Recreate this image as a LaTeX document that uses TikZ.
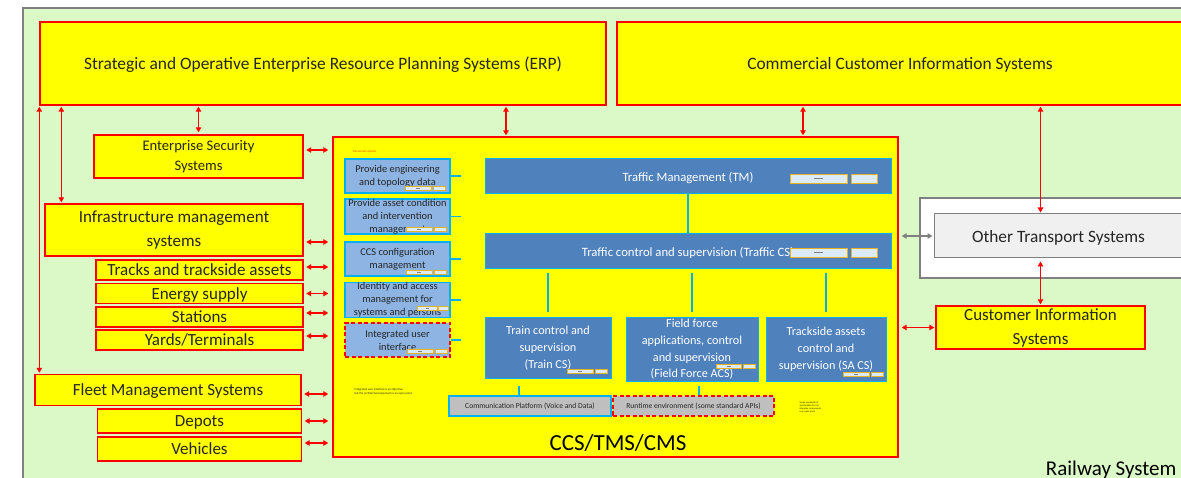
\documentclass[tikz,border=0pt]{standalone}
\usepackage{fontspec}
\setmainfont{Carlito}
\usetikzlibrary{arrows.meta}
\definecolor{bggreen}{HTML}{DAF9C6}
\definecolor{framegray}{HTML}{808080}
\definecolor{ccsblue}{HTML}{4F81BD}
\definecolor{lightblue}{HTML}{8DB4E2}
\definecolor{cyanb}{HTML}{00B0F0}
\definecolor{platgray}{HTML}{BFBFBF}
\definecolor{otgray}{HTML}{F0F0F0}
\definecolor{gaugefill}{HTML}{DDEBF7}
\definecolor{gaugeedge}{HTML}{E6B422}
\definecolor{txt}{HTML}{262626}
\definecolor{notered}{HTML}{FF4000}
\definecolor{pureyellow}{HTML}{FFFF00}
\newcommand\myfs[2]{\fontsize{#1}{#2}\selectfont}
\tikzset{
  gauge/.pic={
    \draw[draw=gaugeedge, fill=gaugefill, line width=0.6pt] (0,0) rectangle (0.66,1);
    \draw[draw=gray, line width=0.6pt] (0.28,0.5) -- (0.38,0.5);
    \draw[draw=gaugeedge, fill=gaugefill, line width=0.6pt] (0.7,0) rectangle (1,1);
  },
  sz/.style 2 args={minimum width=#1, minimum height=#2},
  ybox/.style={draw=red, fill=pureyellow, line width=1.4pt, inner sep=0pt, align=center, text=txt},
  lbox/.style={draw=cyanb, fill=lightblue, line width=1.2pt, inner sep=0pt, align=center, text=txt, font=\myfs{10.4}{13}},
  bbox/.style={draw=cyanb, fill=ccsblue, line width=1pt, inner sep=0pt, align=center, text=white},
  pbox/.style={draw=cyanb, fill=platgray, line width=1.2pt, inner sep=0pt, text=txt, font=\myfs{7.6}{8}},
  reddash/.style={draw=red, dash pattern=on 4pt off 2.5pt, line width=1.6pt},
  rarrow/.style={draw=red, line width=1.1pt, {Triangle[length=5pt,width=5.5pt]}-{Triangle[length=5pt,width=5.5pt]}},
  garrow/.style={draw=framegray, line width=1.1pt, {Triangle[length=5pt,width=5.5pt]}-{Triangle[length=5pt,width=5.5pt]}},
  cline/.style={draw=cyanb, line width=1.2pt},
  one/.style={text depth=0pt},
}
\begin{document}
\begin{tikzpicture}[x=1pt,y=-1pt]
\useasboundingbox (0,0) rectangle (1181,478);
\clip (0,0) rectangle (1181,478);
\fill[white] (0,0) rectangle (1181,478);
\draw[draw=framegray, fill=bggreen, line width=2pt] (23,8) rectangle (1200,500);

% top systems
\node[ybox, one, sz={566}{83}, font=\myfs{17.4}{20}] (erp) at (323,63.5) {Strategic and Operative Enterprise Resource Planning Systems (ERP)};
\node[ybox, one, sz={566}{83}, font=\myfs{17.4}{20}] (comm) at (900,63.5) {Commercial Customer Information Systems};

% left systems
\node[ybox, sz={209}{43}, font=\myfs{14.6}{20}] (ess) at (198.5,156.5) {Enterprise Security\\Systems};
\node[ybox, sz={258}{52}, font=\myfs{17}{24}] (infra) at (174,230) {Infrastructure management\\systems};
\node[ybox, one, sz={207}{20}, font=\myfs{17}{18}] (tracks) at (199.5,270) {Tracks and trackside assets};
\node[ybox, one, sz={207}{20}, font=\myfs{17}{18}] (energy) at (199.5,293.5) {Energy supply};
\node[ybox, one, sz={207}{20}, font=\myfs{17}{18}] (stations) at (199.5,317) {Stations};
\node[ybox, one, sz={207}{20}, font=\myfs{17}{18}] (yards) at (199.5,340) {Yards/Terminals};
\node[ybox, one, sz={266}{31}, font=\myfs{17}{18}] (fleet) at (168,390) {Fleet Management Systems};
\node[ybox, one, sz={204}{24}, font=\myfs{17}{18}] (depots) at (199.5,421) {Depots};
\node[ybox, one, sz={204}{24}, font=\myfs{17}{18}] (vehicles) at (199.5,449) {Vehicles};

% CCS block
\node[ybox, sz={565}{320}] (ccs) at (615.5,297) {};
\node[anchor=base, font=\myfs{23}{28}, text=black] (ccslabel) at (618,450) {CCS/TMS/CMS};
\node[anchor=west, font=\myfs{3}{3.5}, text=notered] (transv) at (349,152) {Transversal systems};

\node[lbox, sz={105}{34}] (lb1) at (397.5,176) {Provide engineering\\and topology data};
\node[lbox, sz={105}{35}] (lb2) at (397.5,216.5) {Provide asset condition\\and intervention\\management};
\node[lbox, sz={105}{34}] (lb3) at (397.5,259) {CCS configuration\\management};
\node[lbox, sz={105}{34}] (lb4) at (397.5,300) {Identity and access\\management for\\systems and persons};
\node[lbox, reddash, sz={105}{34}] (lb5) at (397.5,340) {Integrated user\\interface};
\node[anchor=north west, font=\myfs{3}{4}, align=left, text=txt] (iuinote) at (351,384.5) {Integrated user interface is an objective,\\but the architectural approach is an open point};

\node[bbox, one, sz={406}{35}, font=\myfs{12.7}{14}] (tm) at (688,176.5) {Traffic Management (TM)};
\node[bbox, one, sz={406}{35}, font=\myfs{12.7}{14}] (tcs) at (688,251.5) {Traffic control and supervision (Traffic CS)};
\node[bbox, sz={126}{60}, font=\myfs{12.2}{17}] (train) at (548,348) {Train control and\\supervision\\(Train CS)};
\node[bbox, sz={132}{63}, font=\myfs{12.2}{16.7}] (field) at (692,349.5) {Field force\\applications, control\\and supervision\\(Field Force ACS)};
\node[bbox, sz={120}{63}, font=\myfs{12.2}{17}] (track) at (826,349.5) {Trackside assets\\control and\\supervision (SA CS)};

\node[pbox, sz={162}{20}] (compl) at (530,406) {Communication Platform (Voice and Data)};
\node[pbox, reddash, sz={161}{20}] (runtime) at (693.5,406) {Runtime environment (some standard APIs)};
\node[anchor=north west, font=\myfs{2.4}{3}, align=left, text=txt] (scopenote) at (796,398) {Scope and depth of\\specification for the\\interplay, components\\is an open point};

% gauges
\pic[xscale=40,yscale=4] at (405,186) {gauge};
\pic[xscale=40,yscale=4] at (406,227) {gauge};
\pic[xscale=40,yscale=4] at (406,270) {gauge};
\pic[xscale=31,yscale=4] at (417,306) {gauge};
\pic[xscale=40,yscale=4] at (407,349) {gauge};
\pic[xscale=87,yscale=9] at (790,174) {gauge};
\pic[xscale=87,yscale=9] at (790,248) {gauge};
\pic[xscale=40,yscale=4] at (567,369) {gauge};
\pic[xscale=39,yscale=4] at (716,364) {gauge};
\pic[xscale=40,yscale=4] at (843,372) {gauge};

% inner connectors
\foreach \b in {lb1,lb2,lb3,lb4,lb5} {\draw[cline] (\b.east) -- ++(10,0);}
\draw[cline] (tm.south) -- (tcs.north);
\foreach \b in {train,field,track} {\draw[cline, shorten <=4pt, shorten >=5pt] (tcs.south -| \b.north) -- (\b.north);}
\draw[cline] ([xshift=-11pt]compl.north) -- ++(0,-9);
\draw[cline] ([xshift=5.5pt]runtime.north) -- ++(0,-9);

% right side
\node[draw=framegray, fill=white, line width=1.6pt, sz={270}{80}] (frame) at (1055,238) {};
\node[draw=framegray, fill=otgray, line width=1pt, one, sz={249}{44}, font=\myfs{17.3}{20}, text=txt] (ot) at (1058.5,236) {Other Transport Systems};
\node[ybox, sz={209}{43}, font=\myfs{17}{24}] (cis) at (1040.5,327.5) {Customer Information\\Systems};
\node[anchor=base east, font=\myfs{21}{26}, text=black] (rs) at (1180,475) {Railway System};

% arrows
\draw[rarrow, shorten <=1pt, shorten >=1pt] (erp.south west) -- (erp.south west |- fleet.north);
\coordinate (a2) at ([xshift=22pt]erp.south west);
\draw[rarrow, shorten <=1pt, shorten >=1pt] (a2) -- (a2 |- infra.north);
\draw[rarrow, shorten <=1pt, shorten >=2pt] (ess.north |- erp.south) -- (ess.north);
\coordinate (a3) at ([xshift=183pt]erp.south);
\draw[rarrow, shorten <=1pt, shorten >=1pt] (a3) -- (a3 |- ccs.north);
\coordinate (a4) at ([xshift=-97pt]comm.south);
\draw[rarrow, shorten <=1pt, shorten >=1pt] (a4) -- (a4 |- ccs.north);
\draw[rarrow, shorten <=1pt, shorten >=1pt] (cis.north |- comm.south) -- (cis.north |- ot.north);
\draw[rarrow, shorten <=3pt, shorten >=1pt] (cis.north |- ot.south) -- (cis.north);
\draw[garrow, shorten <=3pt, shorten >=1pt] (ot.west -| ccs.east) -- (ot.west);
\draw[rarrow, shorten <=3pt, shorten >=1pt] (cis.west -| ccs.east) -- (cis.west);
\foreach \n/\s in {ess/6.5, infra/-12, tracks/3, energy/0, stations/4, yards/4, fleet/-4, depots/0, vehicles/6} {
  \coordinate (p\n) at ([yshift=\s pt]\n.east);
  \draw[rarrow, shorten <=2.5pt, shorten >=4pt] (p\n) -- (p\n -| ccs.west);
}
\end{tikzpicture}
\end{document}
